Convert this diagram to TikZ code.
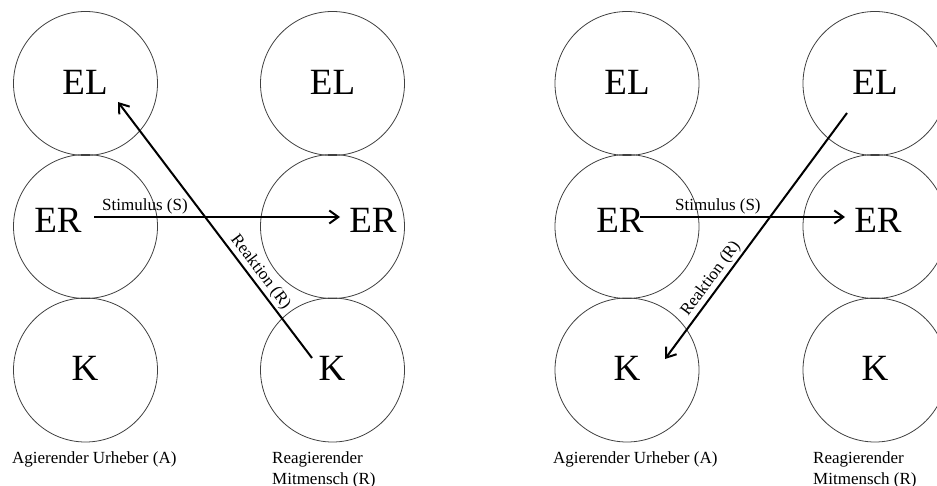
\documentclass[tikz,border=0pt]{standalone}
\usepackage{fontspec}
\setmainfont{Liberation Serif}
\usetikzlibrary{arrows.meta}
\tikzset{
  ring/.style={circle, draw=black!75, line width=0.8pt, minimum size=144pt, inner sep=0pt},
  big/.style={font=\fontsize{37}{40}\selectfont, inner sep=0pt},
  small/.style={font=\fontsize{17}{21}\selectfont, inner sep=0pt},
  arr/.style={line width=2pt, -{Straight Barb[length=9pt,width=13pt,line width=2pt]}},
  lbl/.style={font=\fontsize{17}{21}\selectfont, inner sep=2pt}
}
\begin{document}
\begin{tikzpicture}[x=1pt,y=-1pt]
\useasboundingbox (0,0) rectangle (937,486);
% left diagram circles
\node[ring] (c1) at (85.5,83.5) {};
\node[ring] (c2) at (85.5,226.5) {};
\node[ring] (c3) at (85.5,370) {};
\node[ring] (c4) at (332.5,83.5) {};
\node[ring] (c5) at (332.5,226.5) {};
\node[ring] (c6) at (332.5,370) {};
% right diagram circles
\node[ring] (d1) at (627,83.5) {};
\node[ring] (d2) at (627,226.5) {};
\node[ring] (d3) at (627,370) {};
\node[ring] (d4) at (875,83.5) {};
\node[ring] (d5) at (875,226.5) {};
\node[ring] (d6) at (875,370) {};
% left texts
\node[big] (elA) at (85,82) {EL};
\node[big] (elR) at (332.5,82) {EL};
\node[big] (erA) at (58,220) {ER};
\node[big] (erR) at (373,220) {ER};
\node[big] (kA) at (85,368) {K};
\node[big] (kR) at (332,368) {K};
% right texts
\node[big] (elA2) at (627,82) {EL};
\node[big] (elR2) at (875,82) {EL};
\node[big] (erA2) at (620,220) {ER};
\node[big] (erR2) at (878,220) {ER};
\node[big] (kA2) at (627,368) {K};
\node[big] (kR2) at (875,368) {K};
% bottom labels
\node[small, anchor=west] (la) at (12,459) {Agierender Urheber (A)};
\node[small, anchor=west, align=left] (lr) at (272,469.5) {Reagierender\\Mitmensch (R)};
\node[small, anchor=west] (la2) at (553,459) {Agierender Urheber (A)};
\node[small, anchor=west, align=left] (lr2) at (813,469.5) {Reagierender\\Mitmensch (R)};
% arrow end points
\coordinate (s1a) at (94,217);
\coordinate (s1b) at (340,217);
\coordinate (r1a) at (312,358);
\coordinate (r1b) at (118,102);
\coordinate (s2a) at (640,217);
\coordinate (s2b) at (845,217);
\coordinate (r2a) at (847,113);
\coordinate (r2b) at (665,359);
% arrows
\draw[arr] (s1a) -- node[lbl, pos=0.207, anchor=south] {Stimulus (S)} (s1b);
\draw[arr] (r1a) -- node[lbl, pos=0.31, sloped, above] {Reaktion (R)} (r1b);
\draw[arr] (s2a) -- node[lbl, pos=0.38, anchor=south] {Stimulus (S)} (s2b);
\draw[arr] (r2a) -- node[lbl, pos=0.70, sloped, above] {Reaktion (R)} (r2b);
\end{tikzpicture}
\end{document}
